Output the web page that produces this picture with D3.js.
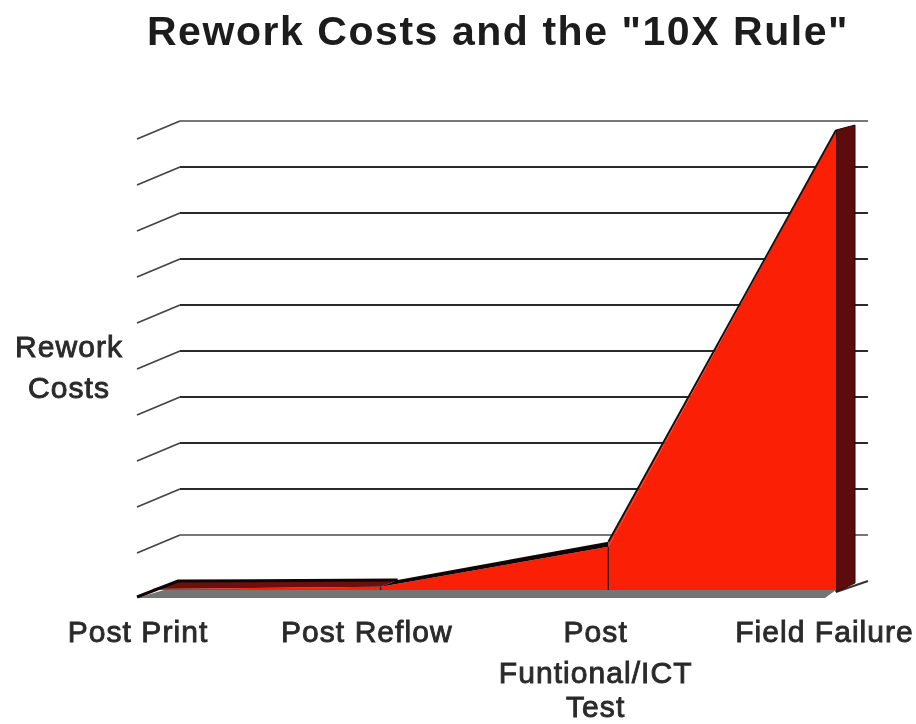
<!DOCTYPE html>
<html><head><meta charset="utf-8">
<script src="https://cdnjs.cloudflare.com/ajax/libs/d3/7.8.5/d3.min.js"></script>
<style>html,body{margin:0;padding:0;background:#fff}svg{display:block;filter:blur(0.55px)}text{font-family:"Liberation Sans",Arial,sans-serif}</style>
</head><body><svg id="c" width="916" height="724"></svg>
<script>
const titleText = 'Rework Costs and the "10X Rule"';
const yAxisLabel = ["Rework", "Costs"];
const categories = ["Post Print", "Post Reflow", "Post ICT", "Field Failure"];
const categoryLabels = [["Post Print"], ["Post Reflow"], ["Post", "Funtional/ICT", "Test"], ["Field Failure"]];
const values = [2, 7, 94, 1000];
const yTicks = [0, 100, 200, 300, 400, 500, 600, 700, 800, 900, 1000];
const grayTicks = [100, 1000];
const colors = {front: "#fb1f06", side: "#5c0c0c", top: "#120404", band: "#6e0f0c", floor: "#757575", grid: "#2a2a2a", gridLight: "#777", tick: "#444", text: "#2a2a2a"};

const svg = d3.select("#c");
const x = d3.scalePoint().domain(categories).range([153, 836]);
const xLabel = d3.scalePoint().domain(categories).range([138, 824.5]);
const y = d3.scaleLinear().domain([0, 1000]).range([590, 130]);
const wallDx = 43, wallDy = -9, wallTilt = 18, leftX = 137, rightX = 868;
const yWall = d => y(d) + wallDy;
const base = y(0);
const line = d3.line();

// Wall grid lines and slanted left ticks
const grid = svg.append("g");
grid.selectAll("line.h").data(yTicks.slice(1)).join("line").attr("class", "h")
  .attr("x1", leftX + wallDx).attr("x2", rightX)
  .attr("y1", yWall).attr("y2", yWall)
  .attr("stroke", d => grayTicks.includes(d) ? colors.gridLight : colors.grid)
  .attr("stroke-width", 1.8);
grid.selectAll("line.s").data(yTicks.slice(1)).join("line").attr("class", "s")
  .attr("x1", leftX).attr("x2", leftX + wallDx)
  .attr("y1", d => yWall(d) + wallTilt).attr("y2", yWall)
  .attr("stroke", colors.tick).attr("stroke-width", 1.8);

// Floor
const xEnd = x("Field Failure");
svg.append("path")
  .attr("d", line([[leftX, base + 8], [leftX + 27, base], [xEnd, base], [xEnd - 11, base + 8]]) + "Z")
  .attr("fill", colors.floor);

const pts = categories.map((c, i) => [x(c), y(values[i])]);
const last = pts[3];

// Floor edge to the right, behind the side wall
svg.append("line").attr("x1", xEnd).attr("y1", base + 2).attr("x2", rightX).attr("y2", yWall(0))
  .attr("stroke", "#333").attr("stroke-width", 2);

// Side wall
svg.append("path")
  .attr("d", line([last, [last[0] + 19, last[1] - 5], [last[0] + 19, base - 7], [last[0], base + 2]]) + "Z")
  .attr("fill", colors.side).attr("stroke", "#2a0505").attr("stroke-width", 1);

// Front face
const area = d3.area().x(d => d[0]).y0(base).y1(d => d[1]);
svg.append("path").attr("d", area(pts)).attr("fill", colors.front);

// Top faces of the low segments
const backTop = [[pts[0][0] + 25, yWall(0)], [pts[1][0] + 17, yWall(0) - 1], [pts[2][0], pts[2][1] - 5]];
svg.append("path").attr("d", line([pts[2], backTop[2], last]) + "Z").attr("fill", colors.front);
svg.append("path").attr("d", line([pts[0], pts[1], backTop[1], backTop[0]]) + "Z").attr("fill", colors.band);
svg.append("path").attr("d", line([pts[1], pts[2], backTop[2], backTop[1]]) + "Z").attr("fill", colors.top);
svg.append("path").attr("d", line([[leftX, base + 7], backTop[0], backTop[1]])).attr("fill", "none")
  .attr("stroke", colors.top).attr("stroke-width", 3);
svg.append("path").attr("d", line([backTop[2], last])).attr("fill", "none").attr("stroke", "#111").attr("stroke-width", 1.8);

// Dividers between segments
svg.selectAll("line.d").data(pts.slice(1, 3)).join("line").attr("class", "d")
  .attr("x1", d => d[0]).attr("x2", d => d[0]).attr("y1", d => d[1]).attr("y2", base)
  .attr("stroke", "#3a0a06").attr("stroke-width", 1.2);

// Text
svg.append("text").attr("x", 498).attr("y", 45).attr("text-anchor", "middle")
  .attr("font-size", 41).attr("font-weight", 700).attr("letter-spacing", 1.55).attr("fill", "#1c1c1c").text(titleText);
const styleLabel = s => s.attr("text-anchor", "middle").attr("font-size", 30).attr("letter-spacing", 1.05)
  .attr("fill", colors.text).attr("stroke", colors.text).attr("stroke-width", 0.9).text(d => d);
svg.append("g").selectAll("text").data(yAxisLabel).join("text")
  .attr("x", 69).attr("y", (d, i) => 357 + i * 41).call(styleLabel);
const lineYs = [642, 683, 717];
categoryLabels.forEach((ls, i) => {
  svg.append("g").selectAll("text").data(ls).join("text")
    .attr("x", xLabel(categories[i])).attr("y", (d, j) => lineYs[j]).call(styleLabel);
});
</script></body></html>
